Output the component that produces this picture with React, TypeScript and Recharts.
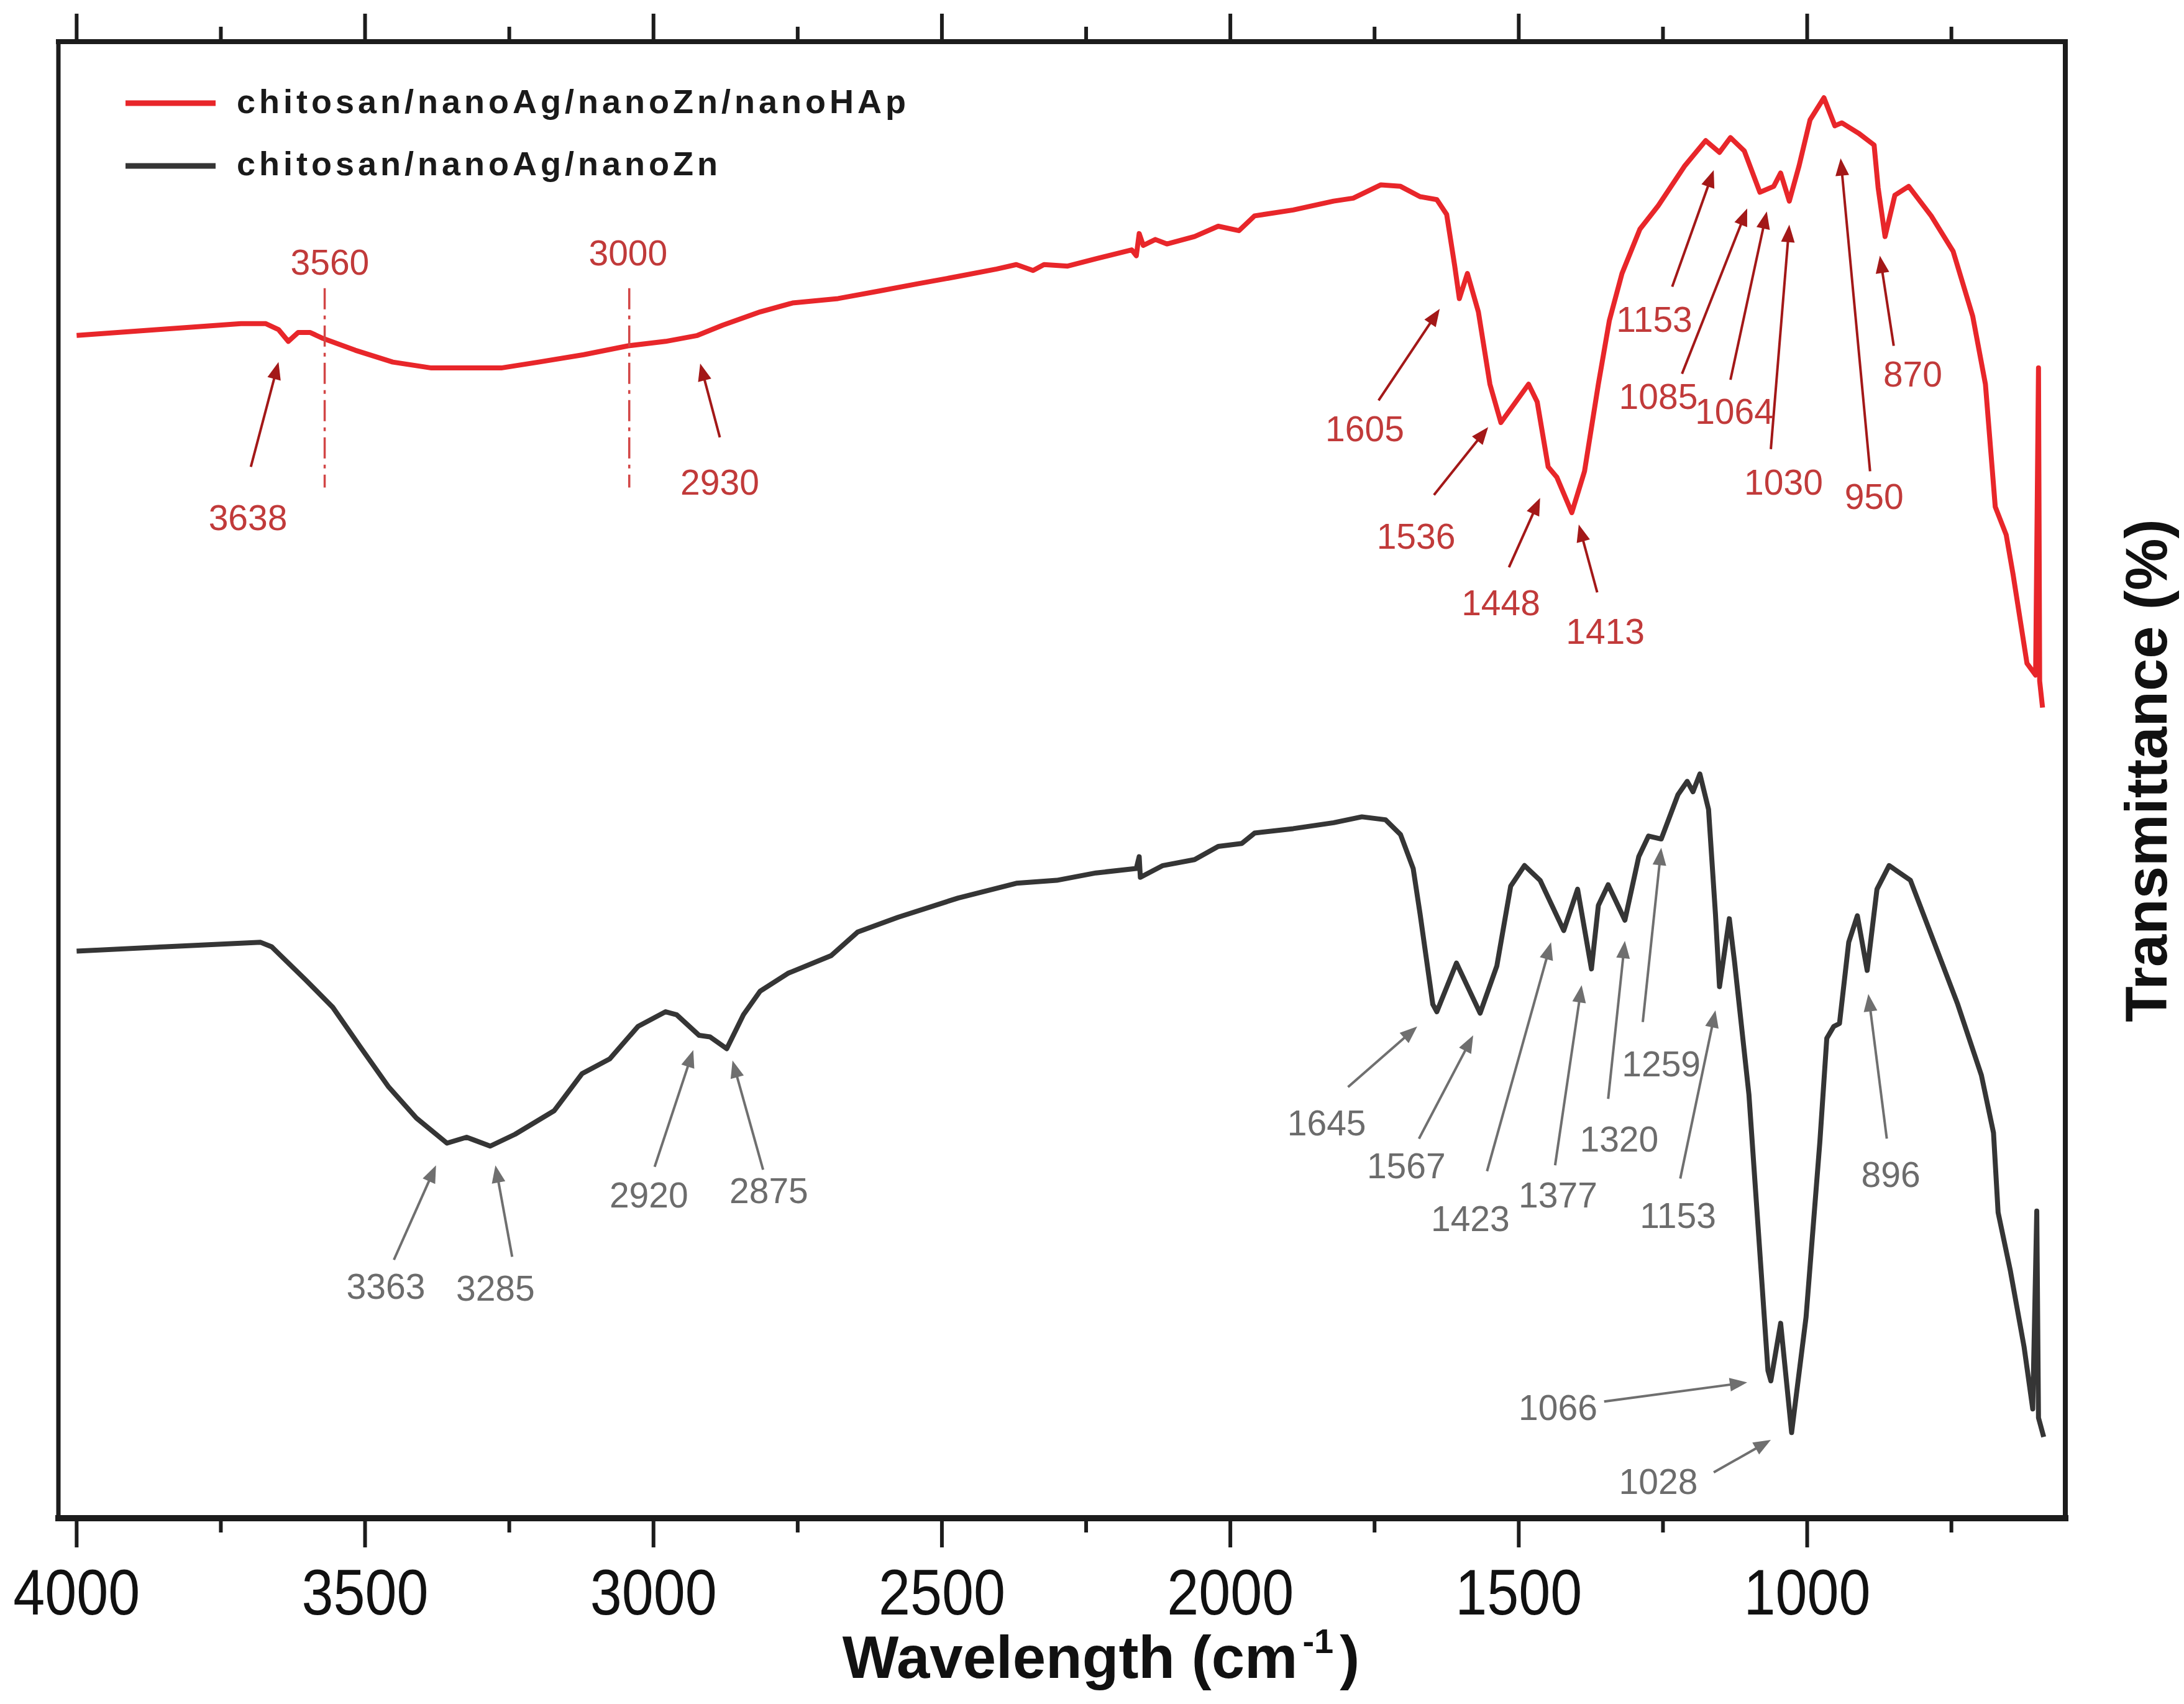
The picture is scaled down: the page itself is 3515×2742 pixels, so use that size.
import React from "react";
import {
  Legend,
  Line,
  LineChart,
  ReferenceDot,
  ReferenceLine,
  XAxis,
  YAxis,
} from "recharts";

const WIDTH = 3515;
const HEIGHT = 2742;
const FONT = '"Liberation Sans", Arial, Helvetica, sans-serif';

const HAP_COLOR = "#e8262a";
const ZN_COLOR = "#353535";
const AXIS_COLOR = "#1c1c1c";
const RED_TEXT = "#c13a3a";
const RED_ARROW = "#a31818";
const GRAY_TEXT = "#6c6c6c";
const GRAY_ARROW = "#6f6f6f";

const X_DOMAIN: [number, number] = [552.5, 4031.6];
const X_TICKS = [4000, 3750, 3500, 3250, 3000, 2750, 2500, 2250, 2000, 1750, 1500, 1250, 1000, 750];

const HAP_NAME = "chitosan/nanoAg/nanoZn/nanoHAp";
const ZN_NAME = "chitosan/nanoAg/nanoZn";

// [wavenumber, transmittance] (y axis has no scale, 0..100 = frame)
const hapSpectrum: [number, number][] = [
  [4000, 80.1], [3858, 80.5], [3715, 80.9], [3672, 80.9], [3650, 80.5], [3633, 79.7],
  [3616, 80.3], [3595, 80.3], [3573, 79.9], [3517, 79.1], [3452, 78.3], [3385, 77.9],
  [3264, 77.9], [3199, 78.3], [3121, 78.8], [3044, 79.4], [2979, 79.7], [2924, 80.1],
  [2880, 80.8], [2815, 81.7], [2759, 82.3], [2680, 82.6], [2610, 83.1], [2542, 83.6],
  [2472, 84.1], [2405, 84.6], [2371, 84.9], [2342, 84.5], [2323, 84.9], [2282, 84.8],
  [2233, 85.3], [2171, 85.9], [2163, 85.5], [2158, 87.0], [2151, 86.2], [2130, 86.6],
  [2110, 86.3], [2062, 86.8], [2021, 87.5], [1985, 87.2], [1958, 88.2], [1891, 88.6],
  [1821, 89.2], [1787, 89.4], [1739, 90.3], [1705, 90.2], [1671, 89.5], [1642, 89.3],
  [1625, 88.3], [1611, 84.8], [1603, 82.6], [1589, 84.3], [1570, 81.7], [1550, 76.8],
  [1531, 74.2], [1483, 76.8], [1468, 75.6], [1449, 71.2], [1434, 70.5], [1408, 68.1],
  [1386, 70.9], [1362, 76.8], [1343, 81.1], [1321, 84.3], [1290, 87.3], [1258, 88.9],
  [1212, 91.6], [1176, 93.3], [1152, 92.5], [1133, 93.5], [1109, 92.6], [1082, 89.8],
  [1058, 90.2], [1046, 91.1], [1031, 89.2], [1014, 91.6], [995, 94.7], [971, 96.2],
  [952, 94.3], [940, 94.5], [911, 93.8], [884, 93.0], [877, 90.1], [865, 86.8],
  [848, 89.6], [824, 90.2], [785, 88.2], [747, 85.8], [713, 81.4], [691, 76.8],
  [674, 68.5], [655, 66.6], [643, 63.9], [619, 57.9], [604, 57.1], [599, 77.9],
  [597, 56.7], [592, 54.9],
];

const znSpectrum: [number, number][] = [
  [4000, 38.4], [3846, 38.7], [3681, 39.0], [3662, 38.7], [3604, 36.5], [3556, 34.6],
  [3508, 31.9], [3459, 29.2], [3411, 27.1], [3358, 25.4], [3324, 25.8], [3283, 25.2],
  [3240, 26.0], [3172, 27.6], [3124, 30.1], [3076, 31.1], [3027, 33.3], [2979, 34.3],
  [2960, 34.1], [2921, 32.7], [2902, 32.6], [2873, 31.8], [2844, 34.1], [2815, 35.7],
  [2767, 36.9], [2692, 38.1], [2646, 39.7], [2576, 40.7], [2472, 42.0], [2371, 43.0],
  [2301, 43.2], [2233, 43.7], [2163, 44.0], [2158, 44.8], [2156, 43.4], [2117, 44.2],
  [2062, 44.6], [2021, 45.5], [1980, 45.7], [1958, 46.4], [1891, 46.7], [1821, 47.1],
  [1772, 47.5], [1731, 47.3], [1705, 46.3], [1683, 44.0], [1671, 40.9], [1649, 34.8],
  [1642, 34.3], [1608, 37.6], [1567, 34.2], [1538, 37.4], [1514, 42.8], [1490, 44.2],
  [1463, 43.2], [1422, 39.8], [1398, 42.6], [1374, 37.2], [1362, 41.5], [1345, 42.9],
  [1316, 40.5], [1292, 44.8], [1275, 46.2], [1253, 46.0], [1224, 49.0], [1208, 49.9],
  [1198, 49.2], [1186, 50.4], [1171, 48.0], [1159, 40.9], [1152, 36.0], [1135, 40.6],
  [1126, 37.7], [1101, 28.7], [1084, 19.1], [1068, 10.0], [1063, 9.3], [1046, 13.2],
  [1027, 5.8], [1002, 13.6], [978, 25.5], [966, 32.5], [954, 33.3], [944, 33.5],
  [928, 39.0], [913, 40.8], [896, 37.1], [879, 42.6], [858, 44.2], [821, 43.2],
  [780, 39.0], [739, 34.8], [698, 30.0], [677, 26.1], [669, 20.7], [648, 16.8],
  [624, 11.6], [609, 7.4], [602, 20.8], [599, 6.8], [590, 5.5],
];

// [label, textWn, textT, tailWn, tailT, headWn, headT]
type Note = [string, number, number, number, number, number, number];

const hapNotes: Note[] = [
  ["3638", 3703, 67.8, 3698, 71.2, 3650, 78.3],
  ["2930", 2885, 70.2, 2885, 73.2, 2919, 78.2],
  ["1605", 1767, 73.8, 1743, 75.7, 1637, 81.9],
  ["1536", 1678, 66.5, 1647, 69.3, 1553, 73.9],
  ["1448", 1531, 62.0, 1517, 64.4, 1463, 69.1],
  ["1413", 1350, 60.1, 1364, 62.7, 1396, 67.3],
  ["1153", 1265, 81.2, 1234, 83.4, 1162, 91.3],
  ["1085", 1258, 76.0, 1217, 77.5, 1104, 88.7],
  ["1064", 1126, 75.0, 1133, 77.1, 1070, 88.5],
  ["1030", 1041, 70.2, 1063, 72.4, 1031, 87.6],
  ["950", 884, 69.2, 891, 70.9, 942, 92.1],
  ["870", 817, 77.5, 850, 79.4, 874, 85.5],
];

const znNotes: Note[] = [
  ["3363", 3464, 15.7, 3450, 17.5, 3377, 23.9],
  ["3285", 3274, 15.6, 3245, 17.7, 3274, 23.9],
  ["2920", 3008, 21.9, 2998, 23.8, 2931, 31.7],
  ["2875", 2800, 22.2, 2810, 23.6, 2863, 31.0],
  ["1645", 1833, 26.8, 1796, 29.2, 1676, 33.3],
  ["1567", 1695, 23.9, 1673, 25.7, 1579, 32.7],
  ["1423", 1584, 20.3, 1555, 23.5, 1444, 39.0],
  ["1377", 1432, 21.9, 1437, 23.9, 1391, 36.1],
  ["1320", 1326, 25.7, 1345, 28.4, 1316, 39.1],
  ["1259", 1253, 30.8, 1285, 33.6, 1253, 45.4],
  ["1153", 1224, 20.5, 1220, 23.0, 1159, 34.4],
  ["896", 855, 23.3, 862, 25.7, 894, 35.5],
  ["1066", 1432, 7.5, 1352, 7.9, 1104, 9.2],
  ["1028", 1258, 2.5, 1162, 3.1, 1063, 5.3],
];

// [label, lineWn, textWn, textT]
const guideLines: [string, number, number, number][] = [
  ["3560", 3570, 3561, 85.1],
  ["3000", 3042, 3044, 85.7],
];

const toRows = (pts: [number, number][]) => pts.map(([wn, t]) => ({ wn, t }));
const hapData = toRows(hapSpectrum);
const znData = toRows(znSpectrum);

const legendItems = [
  { name: HAP_NAME, color: HAP_COLOR },
  { name: ZN_NAME, color: ZN_COLOR },
];

const Arrow = (props: any) => {
  const { x1, y1, x2, y2, stroke } = props;
  const dx = x2 - x1;
  const dy = y2 - y1;
  const len = Math.hypot(dx, dy) || 1;
  const ux = dx / len;
  const uy = dy / len;
  const hl = 28;
  const hw = 11;
  const bx = x2 - ux * hl;
  const by = y2 - uy * hl;
  return (
    <g>
      <line x1={x1} y1={y1} x2={bx + ux * 2} y2={by + uy * 2} stroke={stroke} strokeWidth={4} />
      <polygon
        points={`${x2},${y2} ${bx - uy * hw},${by + ux * hw} ${bx + uy * hw},${by - ux * hw}`}
        fill={stroke}
      />
    </g>
  );
};

const noteLabel = (label: string, color: string) => (p: any) => (
  <text
    x={p.cx}
    y={p.cy}
    dy="0.36em"
    textAnchor="middle"
    fontFamily={FONT}
    fontSize={57}
    fill={color}
  >
    {label}
  </text>
);

const BottomTick = (props: any) => {
  const { x, y, payload } = props;
  const major = payload.value % 500 === 0;
  return (
    <g>
      <line x1={x} x2={x} y1={y} y2={y + (major ? 47 : 23)} stroke={AXIS_COLOR} strokeWidth={6} />
      {major && (
        <text
          x={x}
          y={y + 155}
          textAnchor="middle"
          fontFamily={FONT}
          fontSize={104}
          textLength={204}
          lengthAdjust="spacingAndGlyphs"
          fill="#111"
        >
          {payload.value}
        </text>
      )}
    </g>
  );
};

const TopTick = (props: any) => {
  const { x, y, payload } = props;
  const major = payload.value % 500 === 0;
  return <line x1={x} x2={x} y1={y} y2={y - (major ? 45 : 24)} stroke={AXIS_COLOR} strokeWidth={6} />;
};

const XTitle = () => (
  <text x={1772} y={2700} textAnchor="middle" fontFamily={FONT} fontSize={96} fontWeight="bold" fill="#111">
    Wavelength (cm
    <tspan dx={8} dy={-40} fontSize={56}>
      -1
    </tspan>
    <tspan dx={10} dy={40}>
      )
    </tspan>
  </text>
);

const YTitle = () => (
  <text
    x={3454}
    y={1240}
    dy="0.35em"
    transform="rotate(-90 3454 1240)"
    textAnchor="middle"
    fontFamily={FONT}
    fontSize={94}
    fontWeight="bold"
    fill="#111"
  >
    Transmittance (%)
  </text>
);

const LegendBox = () => (
  <svg width={1500} height={320} style={{ display: "block" }}>
    {legendItems.map((item, i) => (
      <g key={item.name}>
        <line x1={202} x2={347} y1={166 + i * 101} y2={166 + i * 101} stroke={item.color} strokeWidth={9} />
        <text
          x={381}
          y={182 + i * 100}
          fontFamily={FONT}
          fontSize={54}
          fontWeight="bold"
          letterSpacing={6}
          fill="#1a1a1a"
        >
          {item.name}
        </text>
      </g>
    ))}
  </svg>
);

export default function App() {
  return (
    <div style={{ width: WIDTH, height: HEIGHT, background: "#fff" }}>
      <style>{"body{margin:0}"}</style>
      <LineChart width={WIDTH} height={HEIGHT} margin={{ top: 0, right: 0, bottom: 0, left: 0 }}>
        <XAxis
          xAxisId="bottom"
          type="number"
          dataKey="wn"
          domain={X_DOMAIN}
          allowDataOverflow
          reversed
          ticks={X_TICKS}
          interval={0}
          height={299}
          tickSize={0}
          tickMargin={0}
          tickLine={false}
          axisLine={{ stroke: AXIS_COLOR, strokeWidth: 10, strokeLinecap: "square" }}
          tick={BottomTick}
          label={() => <XTitle />}
        />
        <XAxis
          xAxisId="top"
          orientation="top"
          type="number"
          dataKey="wn"
          domain={X_DOMAIN}
          allowDataOverflow
          reversed
          ticks={X_TICKS}
          interval={0}
          height={67}
          tickSize={0}
          tickMargin={0}
          tickLine={false}
          axisLine={{ stroke: AXIS_COLOR, strokeWidth: 8, strokeLinecap: "square" }}
          tick={TopTick}
        />
        <YAxis
          yAxisId="left"
          type="number"
          domain={[0, 100]}
          allowDataOverflow
          width={94}
          tick={false}
          tickLine={false}
          axisLine={{ stroke: AXIS_COLOR, strokeWidth: 7, strokeLinecap: "square" }}
        />
        <YAxis
          yAxisId="right"
          orientation="right"
          type="number"
          domain={[0, 100]}
          allowDataOverflow
          width={191}
          tick={false}
          tickLine={false}
          axisLine={{ stroke: AXIS_COLOR, strokeWidth: 8, strokeLinecap: "square" }}
          label={() => <YTitle />}
        />
        <Legend
          layout="horizontal"
          verticalAlign="middle"
          align="center"
          wrapperStyle={{ left: 0, top: 0, width: 1500, height: 320, margin: 0 }}
          content={() => <LegendBox />}
        />
        <Line
          xAxisId="bottom"
          yAxisId="left"
          data={hapData}
          dataKey="t"
          name={HAP_NAME}
          type="linear"
          stroke={HAP_COLOR}
          strokeWidth={8}
          strokeLinejoin="round"
          dot={false}
          activeDot={false}
          isAnimationActive={false}
        />
        <Line
          xAxisId="bottom"
          yAxisId="left"
          data={znData}
          dataKey="t"
          name={ZN_NAME}
          type="linear"
          stroke={ZN_COLOR}
          strokeWidth={8}
          strokeLinejoin="round"
          dot={false}
          activeDot={false}
          isAnimationActive={false}
        />
        {guideLines.map(([label, lineWn, textWn, textT]) => (
          <ReferenceLine
            key={`g-${label}`}
            xAxisId="bottom"
            yAxisId="left"
            segment={[
              { x: lineWn, y: 83.3 },
              { x: lineWn, y: 69.8 },
            ]}
            stroke="#d24646"
            strokeWidth={3.5}
            strokeDasharray="34 10 6 10"
          />
        ))}
        {guideLines.map(([label, lineWn, textWn, textT]) => (
          <ReferenceDot
            key={`gt-${label}`}
            xAxisId="bottom"
            yAxisId="left"
            x={textWn}
            y={textT}
            r={0}
            shape={noteLabel(label, RED_TEXT)}
          />
        ))}
        {[...hapNotes.map((n) => [n, RED_ARROW] as const), ...znNotes.map((n) => [n, GRAY_ARROW] as const)].map(
          ([n, color], i) => (
            <ReferenceLine
              key={`a-${i}`}
              xAxisId="bottom"
              yAxisId="left"
              segment={[
                { x: n[3], y: n[4] },
                { x: n[5], y: n[6] },
              ]}
              stroke={color}
              shape={Arrow}
            />
          ),
        )}
        {[...hapNotes.map((n) => [n, RED_TEXT] as const), ...znNotes.map((n) => [n, GRAY_TEXT] as const)].map(
          ([n, color], i) => (
            <ReferenceDot
              key={`t-${i}`}
              xAxisId="bottom"
              yAxisId="left"
              x={n[1]}
              y={n[2]}
              r={0}
              shape={noteLabel(n[0], color)}
            />
          ),
        )}
      </LineChart>
    </div>
  );
}
